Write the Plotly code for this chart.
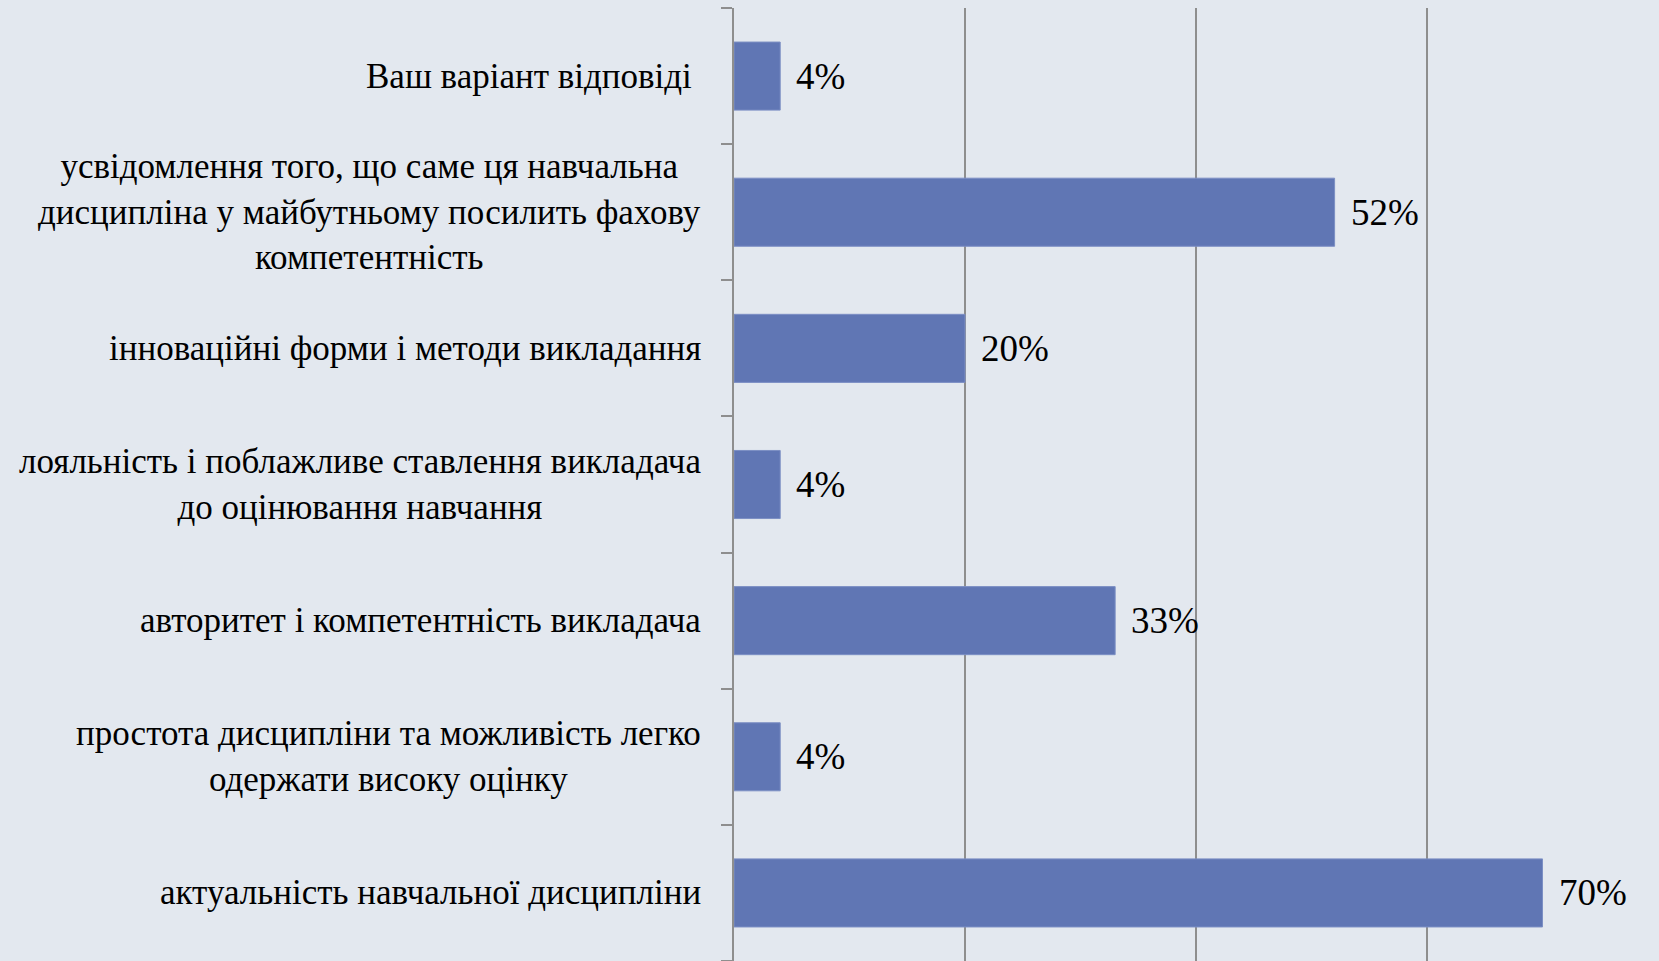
import plotly.graph_objects as go

categories = [
    "Ваш варіант відповіді\u00a0",
    "усвідомлення того, що саме ця навчальна<br>дисципліна у майбутньому посилить фахову<br>компетентність",
    "інноваційні форми і методи викладання",
    "лояльність і поблажливе ставлення викладача<br>до оцінювання навчання",
    "авторитет і компетентність викладача",
    "простота дисципліни та можливість легко<br>одержати високу оцінку",
    "актуальність навчальної дисципліни",
]
values = [0.04, 0.52, 0.20, 0.04, 0.33, 0.04, 0.70]
value_labels = ["4%", "52%", "20%", "4%", "33%", "4%", "70%"]

FONT = "'Liberation Serif', 'Times New Roman', serif"
BG = "#E3E8EF"
BAR = "#6076B4"
GRID = "#8E8E8E"

ids = list(range(len(categories)))

fig = go.Figure()
fig.add_trace(go.Bar(
    y=ids, x=values, orientation="h", width=0.5,
    marker=dict(color=BAR, line=dict(color="#7C8FC4", width=1)),
    hoverinfo="skip",
))

annotations = []
for i, (cat, v, lab) in enumerate(zip(categories, values, value_labels)):
    annotations.append(dict(
        x=0, xref="paper", y=i, yref="y", text=cat, showarrow=False,
        xanchor="right", yanchor="middle", align="center", xshift=-31,
        font=dict(family=FONT, size=35, color="#000000"),
    ))
    annotations.append(dict(
        x=v, xref="x", y=i, yref="y", text=lab, showarrow=False,
        xanchor="left", yanchor="middle", xshift=14,
        font=dict(family=FONT, size=37, color="#000000"),
    ))

fig.update_layout(
    width=1659, height=961,
    margin=dict(l=734, r=1, t=8, b=0),
    paper_bgcolor=BG, plot_bgcolor=BG,
    showlegend=False,
    font=dict(family=FONT),
    annotations=annotations,
    xaxis=dict(range=[0, 0.8], dtick=0.2, showgrid=True, gridcolor=GRID, gridwidth=2,
               showticklabels=False, zeroline=False, ticks="", showline=False, fixedrange=True),
    yaxis=dict(type="category", tickvals=ids, autorange="reversed", showgrid=False,
               showticklabels=False, ticks="outside", tickson="boundaries", ticklen=11,
               tickwidth=2, tickcolor=GRID, showline=True, linecolor=GRID, linewidth=2,
               zeroline=False, fixedrange=True),
)

fig.write_html("out.html", config={"displayModeBar": False},
               post_script="document.body.style.margin='0';document.body.style.overflow='hidden';")
